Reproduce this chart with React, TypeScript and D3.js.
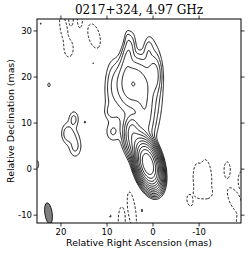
import React, { useMemo } from 'react';
import * as d3 from 'd3';

const W = 250;
const H = 255;
const M = { left: 37, right: 241, top: 19, bottom: 223 };

const raDomain = [25.2, -19.1];
const decDomain = [-11.7, 32.6];
const raTicks = [20, 10, 0, -10];
const decTicks = [-10, 0, 10, 20, 30];
const contourLevels = [1, 2, 4, 8, 16, 32, 64, 128, 256, 512, 1024, 2048, 4096];
const negativeLevels = [1];

// model components: [RA, Dec, peak, sigma major, sigma minor, PA deg]
const coreJet = [
  [1.1, 1.1, 9000, 1.85, 0.87, 15],
  [3.0, 5.0, 120, 2.0, 1.1, 20],
  [4.6, 8.5, 30, 1.6, 0.8, 0],
  [1.8, 13, 12, 4.5, 1.1, 0],
  [4.4, 18.6, 30, 2.7, 1.9, 0],
  [5.5, 24.5, 8, 2.6, 0.75, -8],
  [5.6, 28.5, 1.2, 1.2, 0.4, 0],
  [4.5, 14, 3, 5, 3.2, 0],
  [-0.3, 20.5, 10, 2.0, 0.75, 0],
  [0.0, 19, 3, 5.5, 1.2, 0],
  [1.0, 25.5, 2.5, 1.8, 0.6, 0],
  [9.2, 12.5, 1.5, 1.0, 0.8, 0],
  [8.8, 8, 1.6, 1.2, 0.9, 0],
  [8.9, 18, 1.8, 3.5, 0.9, 0],
];

const islands = [
  [17.2, 10.8, 2.5, 1.2, 0.7, 0],
  [18.7, 7.8, 2.5, 1.5, 0.8, 0],
  [17.6, 7.5, 1.2, 1.0, 1.0, 0],
  [16.9, 5.0, 2.5, 1.6, 0.9, 0],
  [14.8, 10.2, 1.15, 0.4, 0.3, 0],
  [22.6, 18.3, 1.3, 0.6, 0.35, 0],
  [13.0, 23.0, 1.1, 0.3, 0.3, 0],
  [24.4, 31.6, 1.1, 0.4, 0.25, 0],
  [25.3, 1.0, 1.5, 1.0, 0.5, 0],
  [2.4, -9.0, 1.15, 0.6, 0.25, 0],
];

const negatives = [
  [19.4, 30.5, 2.5, 2.2, 0.55, 10],
  [18.3, 26.2, 2.5, 1.3, 0.7, 0],
  [17.8, 32.5, 2, 1.2, 0.4, 0],
  [15.9, 32.5, 2, 1.5, 0.45, 0],
  [12.8, 28.9, 2.5, 2.0, 0.9, 15],
  [-9.6, -1.8, 3, 2.0, 0.6, 0],
  [-11.6, -1.5, 3, 2.4, 0.75, 5],
  [-10.8, -5.2, 3, 0.8, 1.2, 0],
  [-8.0, -6.8, 2.5, 0.9, 0.45, 10],
  [-16.1, -0.2, 2.5, 1.3, 0.5, 0],
  [-17.8, -6.8, 3, 2.0, 0.8, 25],
  [-19.3, -2.5, 2.5, 1.5, 0.6, 0],
  [-18.8, -11.5, 2.5, 1.2, 0.5, 0],
  [6.8, -11.2, 2.5, 2.2, 0.55, 0],
  [4.6, -9, 2.5, 3.0, 0.6, 8],
  [9.3, -10.2, 1.2, 0.4, 0.3, 0],
];

// beam: [RA, Dec, FWHM major, FWHM minor, PA]
const beam = [22.7, -9.6, 4.6, 1.6, 8];

const STEP = 0.2;
const RA_MAX = 27;
const DEC_MAX = 35;
const NX = 241;
const NY = 251;

function field(comps: number[][]) {
  const v = new Float64Array(NX * NY);
  for (let j = 0; j < NY; j++) {
    const dec = DEC_MAX - j * STEP;
    for (let i = 0; i < NX; i++) {
      const ra = RA_MAX - i * STEP;
      let s = 0;
      for (const [r0, d0, p, smaj, smin, pa] of comps) {
        const t = (pa * Math.PI) / 180;
        const dx = ra - r0, dy = dec - d0;
        const a = dx * Math.sin(t) + dy * Math.cos(t);
        const b = dx * Math.cos(t) - dy * Math.sin(t);
        s += p * Math.exp(-0.5 * ((a * a) / (smaj * smaj) + (b * b) / (smin * smin)));
      }
      v[j * NX + i] = s;
    }
  }
  return v;
}

export default function App() {
  const x = d3.scaleLinear().domain(raDomain).range([M.left, M.right]);
  const y = d3.scaleLinear().domain(decDomain).range([M.bottom, M.top]);

  const { pos, neg } = useMemo(() => {
    const gen = d3.contours().size([NX, NY]);
    const pf = field([...coreJet, ...islands]);
    const nf = field(negatives);
    const toPath = (g: any) =>
      g.coordinates
        .map((poly: number[][][]) =>
          poly
            .map(
              (ring) =>
                'M' +
                ring
                  .map(([cx, cy]) => {
                    const ra = RA_MAX - (cx - 0.5) * STEP;
                    const dec = DEC_MAX - (cy - 0.5) * STEP;
                    return `${x(ra).toFixed(2)},${y(dec).toFixed(2)}`;
                  })
                  .join('L') +
                'Z'
            )
            .join('')
        )
        .join('');
    return {
      pos: gen.thresholds(contourLevels)(pf as any).map(toPath),
      neg: gen.thresholds(negativeLevels)(nf as any).map(toPath),
    };
  }, []);

  const [bRa, bDec, bMaj, bMin, bPa] = beam;
  const pxPerMas = x(0) - x(1);

  return (
    <svg width={W} height={H} style={{ position: 'absolute', left: 0, top: 0 }}>
      <defs>
        <clipPath id="plot">
          <rect x={M.left} y={M.top} width={M.right - M.left} height={M.bottom - M.top} />
        </clipPath>
      </defs>
      <rect width={W} height={H} fill="#fff" />
      <g clipPath="url(#plot)" fill="none" stroke="#000" strokeWidth={0.9}>
        {pos.map((d, i) => (
          <path key={'p' + i} d={d} />
        ))}
        {neg.map((d, i) => (
          <path key={'n' + i} d={d} strokeDasharray="2.5,1.6" />
        ))}
        <ellipse
          cx={x(bRa)}
          cy={y(bDec)}
          rx={(bMin / 2) * pxPerMas}
          ry={(bMaj / 2) * pxPerMas}
          transform={`rotate(${-bPa},${x(bRa)},${y(bDec)})`}
          fill="#7f7f7f"
          stroke="#000"
          strokeWidth={0.8}
        />
      </g>
      <rect
        x={M.left}
        y={M.top}
        width={M.right - M.left}
        height={M.bottom - M.top}
        fill="none"
        stroke="#000"
        strokeWidth={1}
      />
      <g stroke="#000" strokeWidth={0.8}>
        {raTicks.map((t) => (
          <g key={'x' + t}>
            <line x1={x(t)} x2={x(t)} y1={M.bottom} y2={M.bottom + 3.5} />
            <line x1={x(t)} x2={x(t)} y1={M.top} y2={M.top - 3.5} />
          </g>
        ))}
        {decTicks.map((t) => (
          <g key={'y' + t}>
            <line x1={M.left} x2={M.left - 3.5} y1={y(t)} y2={y(t)} />
            <line x1={M.right} x2={M.right + 3.5} y1={y(t)} y2={y(t)} />
          </g>
        ))}
      </g>
      <g fontFamily="DejaVu Sans" fontSize={8.5} fill="#000">
        {raTicks.map((t) => (
          <text key={'xl' + t} x={x(t)} y={M.bottom + 12} textAnchor="middle">
            {t}
          </text>
        ))}
        {decTicks.map((t) => (
          <text key={'yl' + t} x={M.left - 5} y={y(t) + 3} textAnchor="end">
            {t}
          </text>
        ))}
      </g>
      <text x={(M.left + M.right) / 2} y={14} textAnchor="middle" fontFamily="DejaVu Serif" fontSize={12}>
        0217+324, 4.97 GHz
      </text>
      <text x={(M.left + M.right) / 2} y={246} textAnchor="middle" fontFamily="DejaVu Sans" fontSize={9.4}>
        Relative Right Ascension (mas)
      </text>
      <text
        transform={`translate(14,${(M.top + M.bottom) / 2}) rotate(-90)`}
        textAnchor="middle"
        fontFamily="DejaVu Sans"
        fontSize={9.4}
      >
        Relative Declination (mas)
      </text>
    </svg>
  );
}
